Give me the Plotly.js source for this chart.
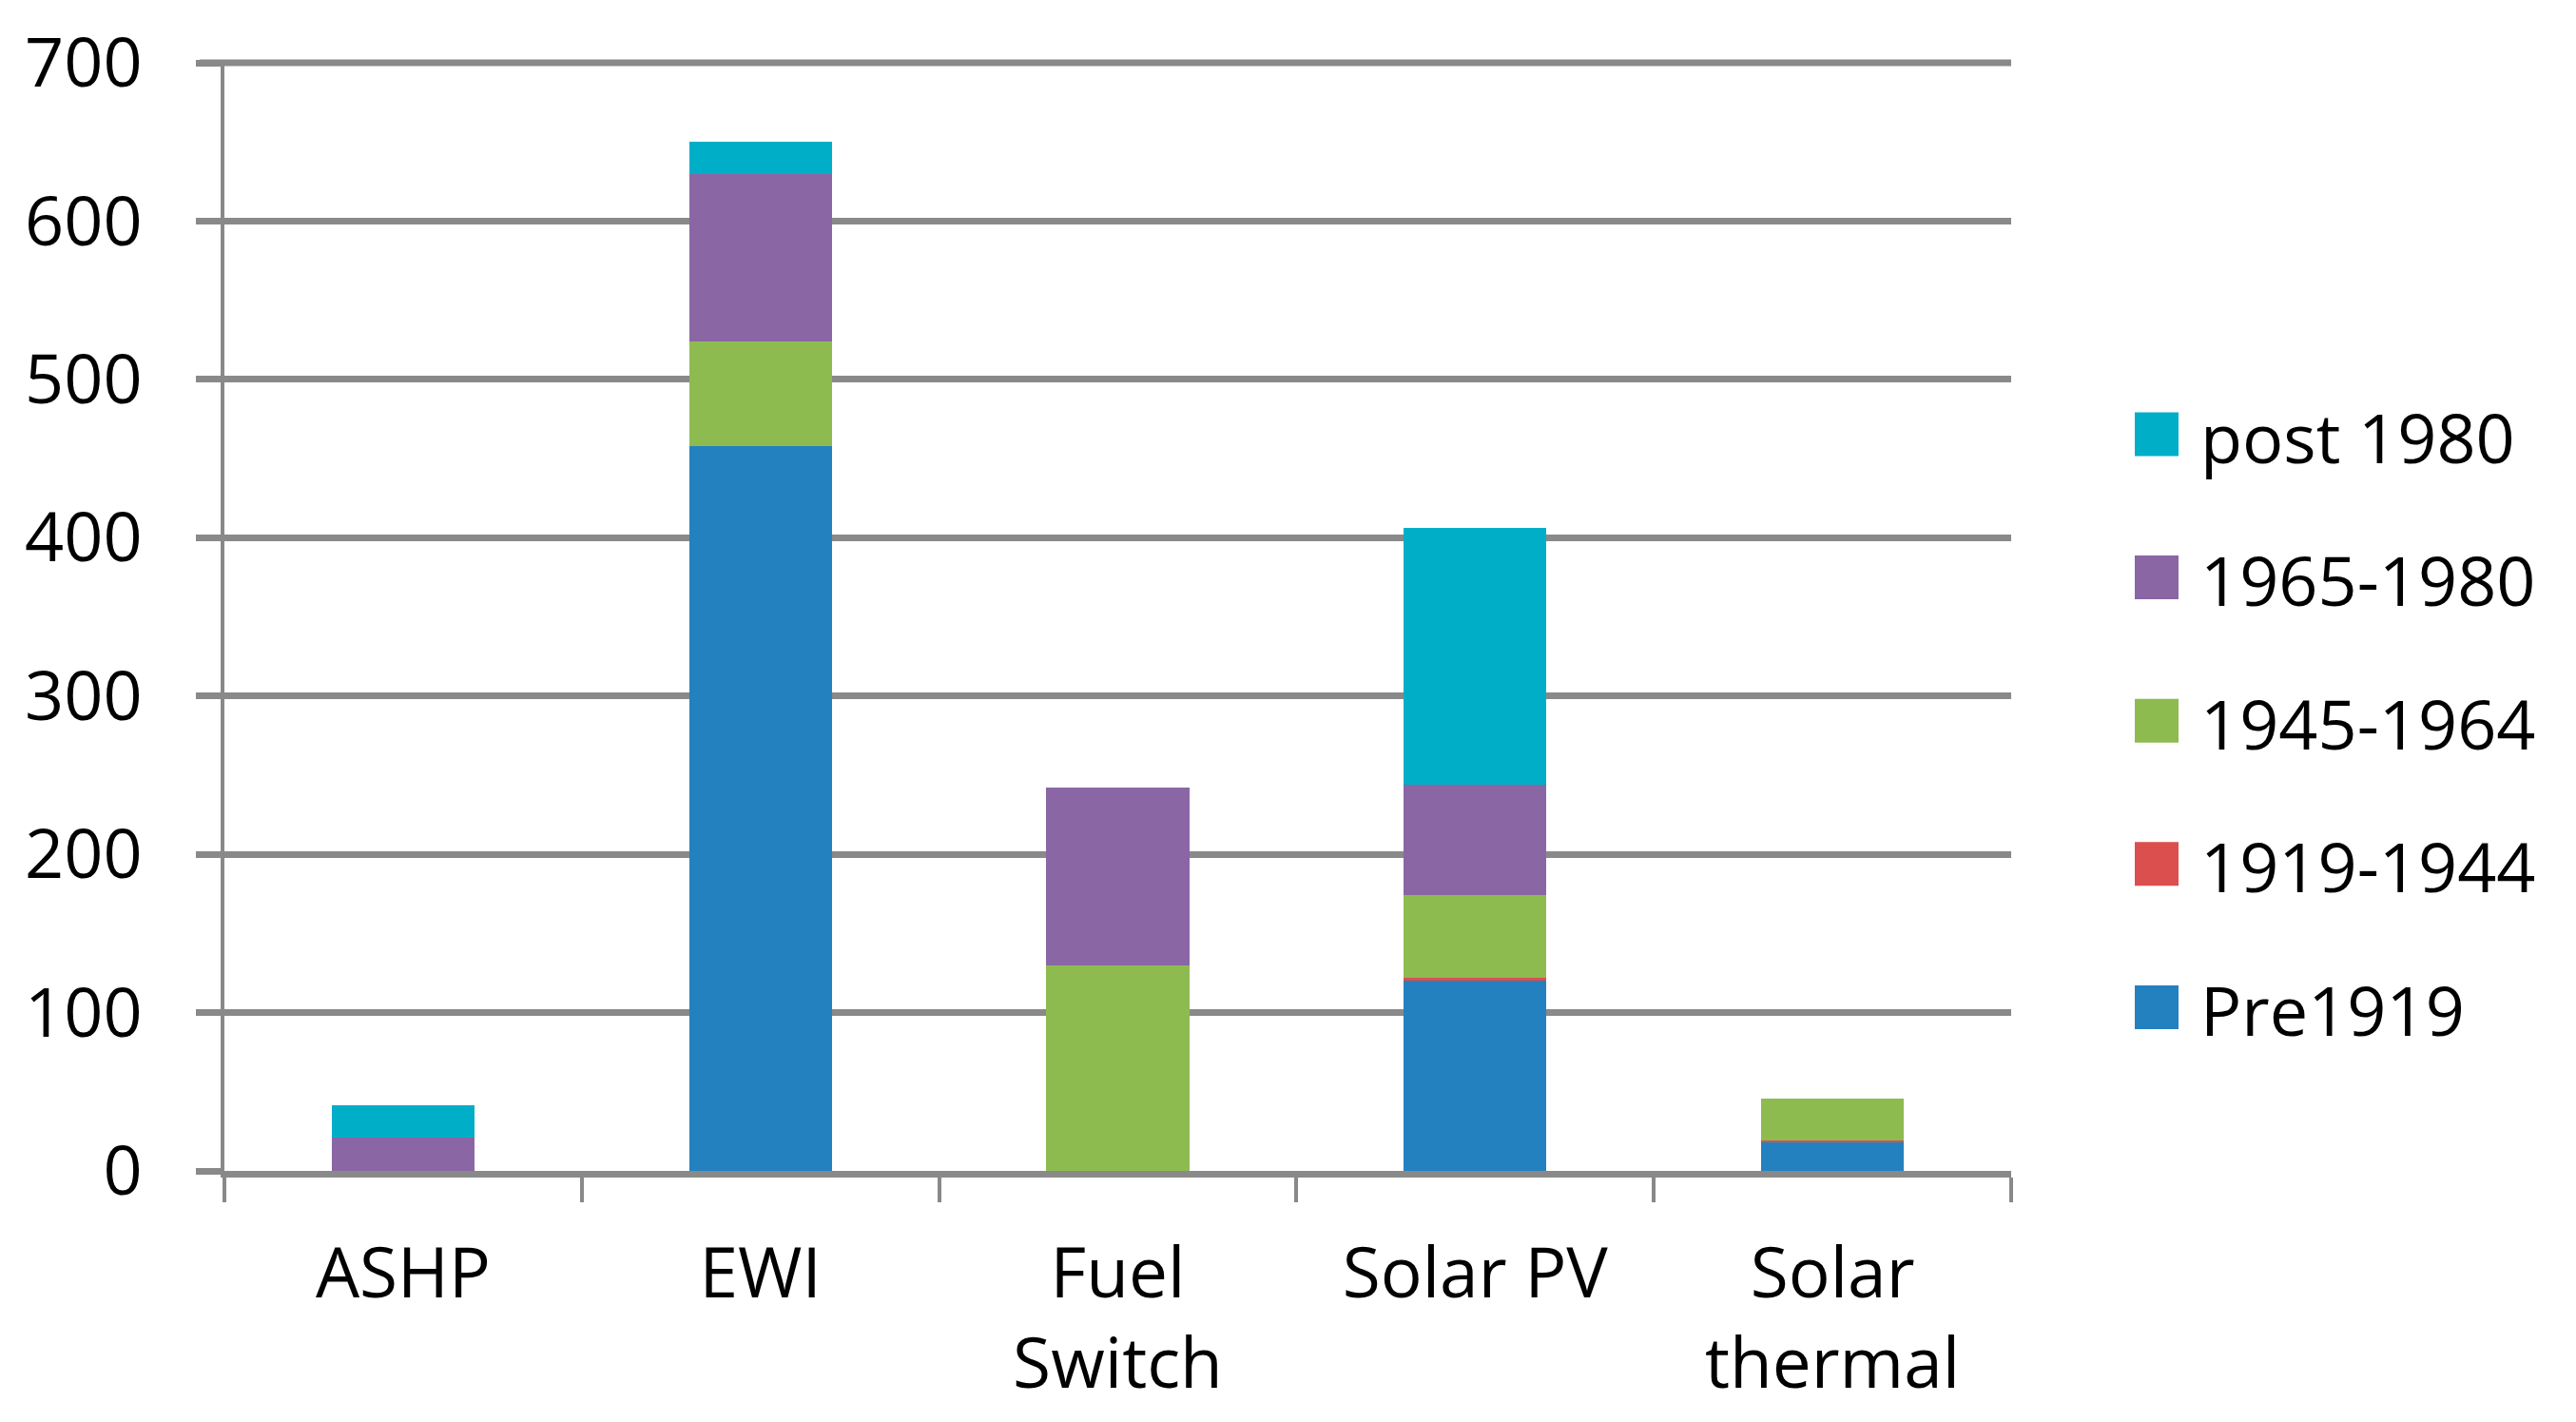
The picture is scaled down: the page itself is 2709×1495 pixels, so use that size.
<!DOCTYPE html>
<html>
<head>
<meta charset="utf-8">
<script src="https://cdn.plot.ly/plotly-3.0.1.min.js"></script>
<style>
  html, body { margin: 0; padding: 0; background: #fff; }
  #chart { width: 2709px; height: 1495px; }
</style>
</head>
<body>
<div id="chart"></div>
<script>
var categories = ['ASHP', 'EWI', 'Fuel<br>Switch', 'Solar PV', 'Solar<br>thermal'];

var pre1919   = [0, 458, 0, 120, 18];
var y19191944 = [0, 0, 0, 2, 1.5];
var y19451964 = [0, 66, 130, 52.5, 26];
var y19651980 = [21, 106, 112, 69.5, 0];
var post1980  = [20.5, 20, 0, 162, 0];

var seriesNames = ['Pre1919', '1919-1944', '1945-1964', '1965-1980', 'post 1980'];
var seriesValues = [pre1919, y19191944, y19451964, y19651980, post1980];
var seriesColors = ['#2481c0', '#dc4f4f', '#8ebb50', '#8a66a4', '#00aec8'];

var yTicks = [0, 100, 200, 300, 400, 500, 600, 700];
var yMax = 700;

// plot area in pixels
var L = 236, R = 2115, T = 66, B = 1231;
var W = 2709, H = 1495;
function px(x) { return (x - L) / (R - L); }
function py(y) { return (B - y) / (B - T); }

var font = 'Open Sans, sans-serif';
var grey = '#898989';

var traces = seriesNames.map(function (name, i) {
  return {
    type: 'bar',
    name: name,
    x: categories,
    y: seriesValues[i],
    marker: { color: seriesColors[i], line: { width: 0 } },
    hoverinfo: 'x+y+name'
  };
});

// top gridline sits on the plot edge; paper ref so it isn't clipped in half
var shapes = [{
  type: 'line', xref: 'paper', yref: 'paper',
  x0: px(L - 26), x1: 1, y0: 1, y1: 1,
  line: { color: grey, width: 7 }, layer: 'below'
}];

// legend drawn by hand (Plotly's bar legend swatch is fixed small)
var annotations = [];
var rowTop = 456.5, rowStep = 150.6, sq = 46;
for (var k = 0; k < seriesNames.length; k++) {
  var i = seriesNames.length - 1 - k;
  var cy = rowTop + k * rowStep;
  shapes.push({
    type: 'rect', xref: 'paper', yref: 'paper',
    x0: px(2245), x1: px(2245 + sq), y0: py(cy - sq / 2), y1: py(cy + sq / 2),
    fillcolor: seriesColors[i], line: { width: 0 }
  });
  annotations.push({
    xref: 'paper', yref: 'paper', x: px(2312), y: py(cy + 2),
    xanchor: 'left', yanchor: 'middle', showarrow: false,
    text: seriesNames[i], font: { family: font, size: 72, color: '#000' }
  });
}

var layout = {
  width: W,
  height: H,
  barmode: 'stack',
  bargap: 0.6,
  showlegend: false,
  paper_bgcolor: '#fff',
  plot_bgcolor: '#fff',
  margin: { l: L, r: W - R, t: T, b: H - B, pad: 0 },
  font: { family: font, size: 72, color: '#000' },
  xaxis: {
    type: 'category',
    tickson: 'boundaries',
    ticks: 'outside',
    ticklen: 26,
    tickwidth: 4,
    tickcolor: grey,
    showgrid: false,
    showline: true,
    linecolor: grey,
    linewidth: 7,
    ticklabelstandoff: 38,
    tickfont: { family: font, size: 73, color: '#000' }
  },
  yaxis: {
    range: [0, yMax],
    tickvals: yTicks,
    ticks: 'outside',
    ticklen: 26,
    tickwidth: 7,
    tickcolor: grey,
    showgrid: true,
    gridcolor: grey,
    gridwidth: 7,
    zeroline: false,
    showline: true,
    linecolor: grey,
    linewidth: 4,
    ticklabelstandoff: 42,
    tickfont: { family: font, size: 72, color: '#000' }
  },
  shapes: shapes,
  annotations: annotations
};

var config = {
  responsive: false,
  displayModeBar: false,
  staticPlot: true
};

Plotly.newPlot('chart', traces, layout, config);
</script>
</body>
</html>
